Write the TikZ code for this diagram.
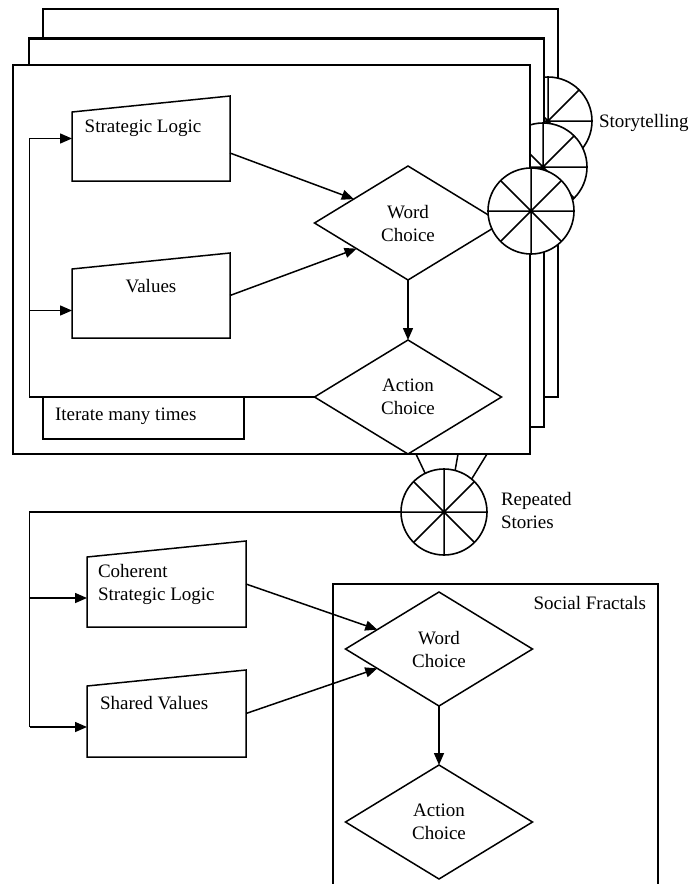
\documentclass[tikz,border=0pt]{standalone}
\usepackage{fontspec}
\setmainfont{Liberation Serif}
\usetikzlibrary{shapes.geometric,arrows.meta,calc}
\begin{document}
\begin{tikzpicture}[x=1pt,y=-1pt,
  every node/.style={font=\fontsize{19}{23}\selectfont, inner sep=0pt, outer sep=0pt},
  ln/.style={line width=1.5pt, line join=miter},
  frm/.style={line width=2.1pt, fill=white},
  arr/.style={ln, -{Triangle[length=12pt,width=10pt]}},
  dia/.style={diamond, draw, line width=1.5pt, minimum width=187pt, minimum height=114pt, align=center},
  wheel/.style={circle, draw, line width=1.6pt, fill=white, minimum size=88pt},
  boxa/.style={minimum width=158pt, minimum height=85pt},
  boxb/.style={minimum width=159pt, minimum height=86pt},
]
\useasboundingbox (0,0) rectangle (689,884);

% ---- stacked frames with storytelling wheels ----
\draw[frm] (43,9) rectangle (558,397);
\node[wheel] (w3) at (548,121) {};
\draw[ln] (w3.0)--(w3.180) (w3.45)--(w3.225) (w3.90)--(w3.270) (w3.135)--(w3.315);
\draw[frm] (29,38.5) rectangle (544,427);
\node[wheel] (w2) at (543,167) {};
\draw[ln] (w2.0)--(w2.180) (w2.45)--(w2.225) (w2.90)--(w2.270) (w2.135)--(w2.315);
\draw[frm] (13,65) rectangle (530,454);

% ---- top flow ----
\node[boxa] (sl) at (151,138.5) {};
\draw[ln] (sl.south west) -- (sl.south east) -- (sl.north east) -- ([yshift=-16pt]sl.north west) -- cycle;
\node (slt) at (143,128) {Strategic Logic};
\node[boxa] (val) at (151,295.5) {};
\draw[ln] (val.south west) -- (val.south east) -- (val.north east) -- ([yshift=-16pt]val.north west) -- cycle;
\node (valt) at (151,286) {Values};

\node[dia] (wc) at (408,223) {Word\\Choice};
\node[dia] (ac) at (408,397) {Action\\Choice};

\node[draw, ln, minimum width=201pt, minimum height=42pt] (it) at (143.5,418) {};
\node[anchor=west] (itt) at (55,416) {Iterate many times};

\coordinate (lx) at (29.5,0);
\coordinate (vin) at ([yshift=-15pt]val.west);
\draw[arr] (ac.west) -- (ac.west -| lx) -- (sl.west -| lx) -- (sl.west);
\draw[arr] (vin -| lx) -- (vin);
\draw[arr] ([yshift=-14.5pt]sl.east) -- ($(wc.west)!0.42!(wc.north)$);
\draw[arr] (val.east) -- ($(wc.west)!0.45!(wc.south)$);
\draw[arr] (wc.south) -- (ac.north);

% front wheel
\node[wheel, minimum size=86pt] (w1) at (531,211) {};
\draw[ln] (w1.0)--(w1.180) (w1.45)--(w1.225) (w1.90)--(w1.270) (w1.135)--(w1.315);
\node[anchor=west] (st) at (599,123) {Storytelling};

% ---- repeated stories wheel ----
\node[wheel, minimum size=86pt] (rw) at (444,512) {};
\draw[ln] (rw.0)--(rw.180) (rw.45)--(rw.225) (rw.90)--(rw.270) (rw.135)--(rw.315);
\coordinate (f1) at (416,454);
\coordinate (f2) at (458,454);
\coordinate (f3) at (487,454);
\draw[ln] (f1) -- (rw.116.6);
\draw[ln] (f2) -- (rw.75.3);
\draw[ln] (f3) -- (rw.50.6);
\node[anchor=west, align=left] (rs) at (501,510) {Repeated\\Stories};

% ---- bottom flow ----
\node[boxb] (cs) at (166.5,584) {};
\draw[ln] (cs.south west) -- (cs.south east) -- (cs.north east) -- ([yshift=-16pt]cs.north west) -- cycle;
\node[anchor=west, align=left] (cst) at (98,584) {Coherent\\Strategic Logic};
\node[boxb, minimum height=87pt] (sv) at (166.5,713.5) {};
\draw[ln] (sv.south west) -- (sv.south east) -- (sv.north east) -- ([yshift=-16pt]sv.north west) -- cycle;
\node[anchor=west] (svt) at (100,703) {Shared Values};

\coordinate (bx) at (29.5,0);
\coordinate (csin) at ([yshift=-14pt]cs.west);
\coordinate (svin) at ([yshift=-13.5pt]sv.west);
\draw[ln] (rw.west) -- (rw.west -| bx) -- (svin -| bx);
\draw[arr] (csin -| bx) -- (csin);
\draw[arr] (svin -| bx) -- (svin);

\draw[ln] (333,884) -- (333,584) -- (658,584) -- (658,884);
\node[anchor=east] (sf) at (646,603) {Social Fractals};
\node[dia] (wc2) at (439,649) {Word\\Choice};
\node[dia] (ac2) at (439,822) {Action\\Choice};
\draw[arr] (cs.east) -- ($(wc2.west)!0.34!(wc2.north)$);
\draw[arr] (sv.east) -- ($(wc2.west)!0.34!(wc2.south)$);
\draw[arr] (wc2.south) -- (ac2.north);
\end{tikzpicture}
\end{document}
